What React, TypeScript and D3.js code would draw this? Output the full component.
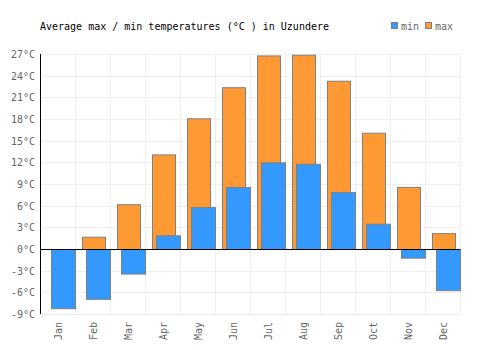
import { useEffect, useRef } from "react";
import * as d3 from "d3";

const months = ["Jan", "Feb", "Mar", "Apr", "May", "Jun", "Jul", "Aug", "Sep", "Oct", "Nov", "Dec"];
const maxTemps = [0, 1.7, 6.2, 13.1, 18.1, 22.4, 26.8, 26.9, 23.3, 16.1, 8.6, 2.2];
const minTemps = [-8.2, -6.9, -3.4, 1.9, 5.8, 8.6, 12.0, 11.8, 7.9, 3.5, -1.2, -5.7];
const yTicks = [-9, -6, -3, 0, 3, 6, 9, 12, 15, 18, 21, 24, 27];

const App = () => {
    const ref = useRef<SVGSVGElement>(null);

    useEffect(() => {
        const svg = d3.select(ref.current);
        svg.selectAll("*").remove();

        const font = "'DejaVu Sans Mono', monospace";
        const margin = { top: 54, right: 40, bottom: 36, left: 40 };
        const width = 500 - margin.left - margin.right;
        const height = 350 - margin.top - margin.bottom;

        const x = d3.scaleBand().domain(months).range([0, width]);
        const y = d3.scaleLinear().domain([-9, 27]).range([height, 0]);

        // title
        svg.append("text")
            .attr("x", 40)
            .attr("y", 30)
            .attr("font-family", font)
            .attr("font-size", "10px")
            .attr("fill", "#000")
            .text("Average max / min temperatures (°C ) in Uzundere");

        // legend
        const legend = [
            { label: "min", color: "#3399FF", x: 391 },
            { label: "max", color: "#FF9933", x: 425 },
        ];
        legend.forEach((l) => {
            svg.append("rect")
                .attr("x", l.x + 0.5)
                .attr("y", 22.5)
                .attr("width", 6)
                .attr("height", 6)
                .attr("fill", l.color)
                .attr("stroke", "#808080")
                .attr("stroke-width", 1);
            svg.append("text")
                .attr("x", l.x + 10)
                .attr("y", 30)
                .attr("font-family", font)
                .attr("font-size", "10px")
                .attr("fill", "#666")
                .text(l.label);
        });

        const g = svg.append("g").attr("transform", `translate(${margin.left},${margin.top})`);

        // grid
        g.selectAll(".hgrid")
            .data(yTicks)
            .enter()
            .append("line")
            .attr("x1", 0)
            .attr("x2", width)
            .attr("y1", (d) => Math.round(y(d)) + 0.5)
            .attr("y2", (d) => Math.round(y(d)) + 0.5)
            .attr("stroke", "#eeeeee")
            .attr("stroke-width", 1);

        g.selectAll(".vgrid")
            .data(months.concat(["end"]))
            .enter()
            .append("line")
            .attr("x1", (d, i) => Math.round(i * x.bandwidth()) + 0.5)
            .attr("x2", (d, i) => Math.round(i * x.bandwidth()) + 0.5)
            .attr("y1", 0)
            .attr("y2", height)
            .attr("stroke", "#eeeeee")
            .attr("stroke-width", 1);

        // y tick labels
        g.selectAll(".ylab")
            .data(yTicks)
            .enter()
            .append("text")
            .attr("x", -5)
            .attr("y", (d) => y(d) + 4)
            .attr("text-anchor", "end")
            .attr("font-family", font)
            .attr("font-size", "10px")
            .attr("fill", "#666")
            .text((d) => `${d}°C`);

        // max bars
        g.selectAll(".maxbar")
            .data(maxTemps.map((v, i) => ({ m: months[i], v })))
            .enter()
            .append("rect")
            .attr("x", (d) => (x(d.m) as number) + 7 + 0.5)
            .attr("width", 23)
            .attr("y", (d) => Math.min(y(d.v), y(0)) + 0.5)
            .attr("height", (d) => Math.abs(y(d.v) - y(0)))
            .attr("fill", "#FF9933")
            .attr("stroke", "#808080")
            .attr("stroke-width", 1);

        // min bars
        g.selectAll(".minbar")
            .data(minTemps.map((v, i) => ({ m: months[i], v })))
            .enter()
            .append("rect")
            .attr("x", (d) => (x(d.m) as number) + 11 + 0.5)
            .attr("width", 24)
            .attr("y", (d) => Math.min(y(d.v), y(0)) + 0.5)
            .attr("height", (d) => Math.abs(y(d.v) - y(0)))
            .attr("fill", "#3399FF")
            .attr("stroke", "#808080")
            .attr("stroke-width", 1);

        // zero line
        g.append("line")
            .attr("x1", 0)
            .attr("x2", width)
            .attr("y1", Math.round(y(0)) + 0.5)
            .attr("y2", Math.round(y(0)) + 0.5)
            .attr("stroke", "#000")
            .attr("stroke-width", 1);

        // y axis line
        g.append("line")
            .attr("x1", 0.5)
            .attr("x2", 0.5)
            .attr("y1", 0)
            .attr("y2", height)
            .attr("stroke", "#000")
            .attr("stroke-width", 1);

        // x labels
        g.selectAll(".xlab")
            .data(months)
            .enter()
            .append("text")
            .attr("transform", (d) => `translate(${(x(d) as number) + x.bandwidth() / 2 + 4},${height + 8}) rotate(-90)`)
            .attr("text-anchor", "end")
            .attr("font-family", font)
            .attr("font-size", "10px")
            .attr("fill", "#666")
            .text((d) => d);
    }, []);

    return (
        <svg
            ref={ref}
            width={500}
            height={350}
            style={{ position: "absolute", left: 0, top: 0, background: "#fff" }}
        />
    );
};

export default App;
